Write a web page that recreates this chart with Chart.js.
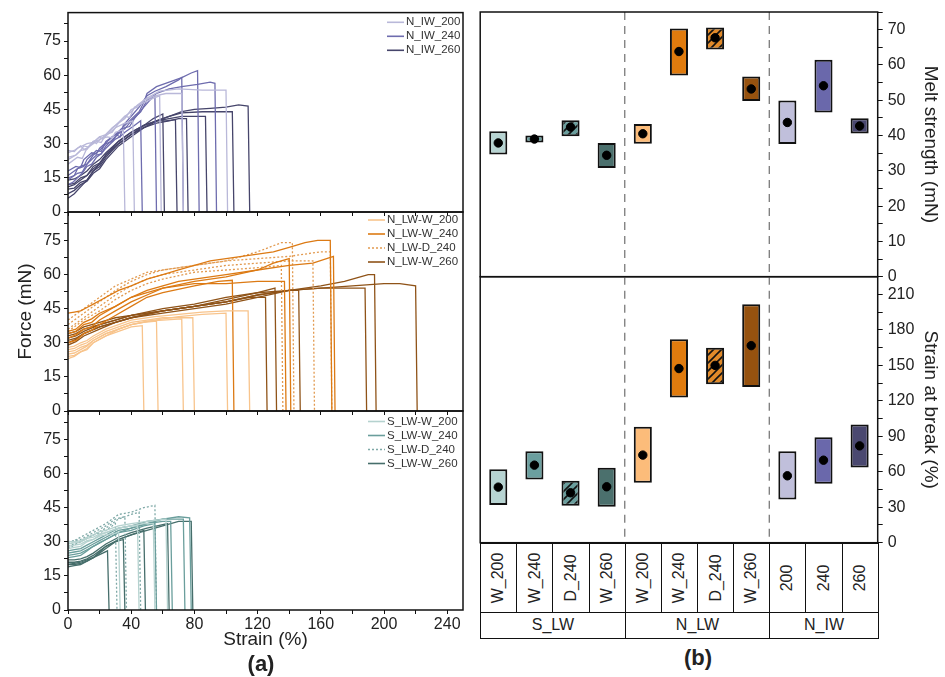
<!DOCTYPE html>
<html>
<head>
<meta charset="utf-8">
<script src="https://cdn.jsdelivr.net/npm/chart.js@4.4.1/dist/chart.umd.min.js"></script>
<style>
  body { margin: 0; width: 945px; height: 677px; position: relative; overflow: hidden; background: #fff;
         font-family: "Liberation Sans", Arial, sans-serif; color: #222; }
  canvas { position: absolute; }
  .cell { position: absolute; box-sizing: border-box; border: 1px solid #111; display: flex;
          align-items: center; justify-content: center; font-size: 16px; color: #222; background: #fff; }
  .rot { transform: rotate(-90deg); white-space: nowrap; }
  .panel { position: absolute; font-weight: bold; font-size: 22px; transform: translate(-50%, -50%); }
</style>
</head>
<body>
<canvas id="cTop" width="470" height="226" style="left:0;top:0"></canvas>
<canvas id="cMid" width="470" height="227" style="left:0;top:198px"></canvas>
<canvas id="cBot" width="470" height="280" style="left:0;top:397px"></canvas>
<canvas id="cRT" width="470" height="297" style="left:475px;top:-4px"></canvas>
<canvas id="cRB" width="470" height="299" style="left:475px;top:260px"></canvas>
<div id="table"></div>
<div class="panel" style="left:261px;top:664px">(a)</div>
<div class="panel" style="left:698px;top:658px">(b)</div>

<script>
// ===== Force-strain curves (strain %, force mN) =====
const nIw200 = [
  [[0,26],[4,27],[8,29],[10,27.5],[12,28],[16,31],[18,30],[20,32],[25,33],[28,32.5],[30,35],[35,36],[36,0]],
  [[0,24],[5,25],[8,27],[10,29],[13,28.5],[15,30],[20,33],[22,32],[25,34],[30,37],[36,39],[41,40],[42,0]],
  [[0,21],[6,24],[9,23.5],[12,28],[18,31],[21,30.5],[24,34],[30,38],[36,42],[39,41.5],[42,46],[48,48],[54,50],[58,51],[59,0]],
  [[0,23],[5,25],[8,27],[12,27.5],[16,31],[20,31.5],[24,34],[28,35],[32,39],[36,41],[40,45],[44,46],[48,49],[55,51],[62,52],[72,52],[73,0]],
  [[0,27],[4,26.5],[6,28],[12,30],[16,30.5],[20,33],[24,34],[28,37],[32,39],[36,42],[40,44],[44,47],[50,50],[58,53],[70,54],[85,53.5],[100,53.5],[101,0]]
];
const nIw240 = [
  [[0,18],[5,20],[8,19.5],[10,23],[15,26],[18,25.5],[20,28],[25,31],[30,34],[33,33],[35,38],[40,42],[45,46],[50,51],[55,53],[62,55],[70,58],[72,59],[73,0]],
  [[0,15],[4,16],[6,19],[10,20],[12,23],[18,27],[21,26.5],[24,31],[28,33],[30,34],[36,38],[42,42],[45,44],[48,48],[50,52],[56,55],[64,57],[72,59],[78,61],[82,62],[83,0]],
  [[0,16],[4,18],[8,20],[12,21],[16,25],[20,27],[24,30],[28,31],[32,35],[36,36.5],[40,40],[46,44],[50,49],[56,52],[64,54],[72,55],[82,56],[90,57],[93,56.5],[94,0]],
  [[0,12],[3,13],[6,15],[9,17],[12,20],[15,21],[18,24],[21,25.5],[24,28],[30,32],[33,33],[36,35],[42,38],[46,40],[47,0]],
  [[0,14],[6,17],[9,17.5],[12,21],[18,25],[21,25.5],[24,29],[30,33],[36,37],[39,37.5],[42,41],[48,46],[53,50],[55,51],[56,0]]
];
const nIw260 = [
  [[0,10],[4,10.5],[8,13],[12,14],[16,18],[20,20],[24,24],[32,30],[40,34],[48,37],[56,40],[64,42],[72,44],[80,45],[90,45.5],[100,46],[108,47],[114,46.5],[115,0]],
  [[0,8],[4,9.5],[8,12],[12,13.5],[16,17],[20,19],[24,23],[32,29],[40,33],[48,37],[56,40],[64,42],[72,43.5],[85,44],[95,44],[104,44],[105,0]],
  [[0,12],[4,12.5],[8,15],[12,16],[16,20],[20,21.5],[24,25],[32,31],[40,35],[48,38],[56,40],[64,41],[72,42],[80,42],[87,42],[88,0]],
  [[0,6],[4,8],[8,11],[12,14],[16,18],[20,21],[24,25],[32,30],[40,34],[48,37],[56,39],[64,40],[70,41],[75,41],[76,0]],
  [[0,14],[4,14.5],[8,16],[12,18],[16,21],[20,23],[24,26],[32,31],[40,35],[48,38],[56,40],[62,40],[68,40.5],[69,0]],
  [[0,11],[4,12],[8,14],[12,16],[16,19],[20,21],[24,25],[32,30],[40,34],[48,38],[54,41],[60,43],[61,0]]
];
const nLwW200 = [
  [[0,24],[4,24.5],[8,26],[12,27],[16,30],[24,33],[32,35],[40,37],[47,37.5],[48,0]],
  [[0,26],[4,26.5],[8,28],[12,29],[16,31],[24,34],[32,36],[40,38],[48,39],[56,39.5],[57,0]],
  [[0,25],[4,25.5],[8,27],[12,28.5],[16,31],[24,34],[32,36],[40,38],[50,39.5],[60,40],[72,40.5],[73,0]],
  [[0,27],[4,27.5],[8,29],[12,30],[16,32],[24,35],[32,37],[40,39],[50,40],[60,41],[70,41],[79,41],[80,0]],
  [[0,23],[4,24],[8,26],[12,27.5],[16,30],[24,33],[32,36],[40,38],[55,40],[70,41.5],[85,42.5],[100,43],[101,0]],
  [[0,28],[4,28.5],[8,30],[12,31],[16,33],[24,36],[32,38],[40,40],[55,41.5],[70,42.5],[85,43.5],[100,44],[114,44],[115,0]]
];
const nLwW240 = [
  [[0,43],[4,43.5],[8,44],[12,45.5],[16,47],[24,50],[32,53],[40,55],[50,58],[60,60],[70,62],[80,64],[90,66],[100,67],[110,68],[120,69],[130,70],[140,72],[150,74],[158,75],[166,75],[167,0]],
  [[0,34],[5,35],[10,38],[15,39],[20,42],[30,46],[40,50],[50,53],[60,55],[70,57],[80,58],[100,60],[120,62],[140,64],[155,65],[168,68],[169,0]],
  [[0,32],[5,33.5],[10,36],[15,37],[20,40],[30,44],[40,48],[50,51],[60,54],[80,57],[100,59],[120,62],[130,65],[140,67],[141,0]],
  [[0,30],[5,31],[10,34],[15,35.5],[20,38],[30,42],[40,46],[50,50],[60,52],[80,55],[95,57],[104,57.5],[105,0]],
  [[0,35],[5,36],[10,39],[15,40.5],[20,43],[30,46],[40,50],[50,52],[60,54],[80,56],[100,56],[120,57],[137,57],[138,0]]
];
const nLwD240 = [
  [[0,38],[10,43],[20,48],[30,53],[40,57],[50,60],[60,62],[80,64],[100,66],[120,70],[135,74],[142,74],[143,0]],
  [[0,36],[10,41],[20,46],[30,51],[40,55],[50,58],[60,60],[80,62],[100,64],[120,65],[140,66],[155,66],[156,0]],
  [[0,40],[10,45],[20,50],[30,55],[40,58],[50,61],[60,62],[80,64],[100,66],[120,67],[140,68],[160,70],[166,70],[167,0]],
  [[0,35],[10,40],[20,44],[30,49],[40,53],[50,56],[60,58],[80,61],[100,62],[120,63],[135,64],[136,0]]
];
const nLwW260 = [
  [[0,33],[5,34],[10,36],[20,38],[30,40],[40,42],[60,44],[80,46],[100,48],[115,50],[125,50],[126,0]],
  [[0,30],[5,31.5],[10,34],[20,37],[30,39],[40,41],[60,44],[80,46],[100,49],[120,52],[131,54],[132,0]],
  [[0,34],[5,35],[10,37],[20,39],[30,41],[40,42],[60,45],[80,47],[100,50],[120,52],[140,53],[146,53],[147,0]],
  [[0,31],[5,32],[10,34],[20,37],[30,39],[40,41],[60,44],[80,46],[100,48],[120,51],[140,53],[160,54],[180,54],[188,54],[189,0]],
  [[0,29],[5,30.5],[10,33],[20,36],[30,39],[40,41],[60,43],[80,45],[100,47],[120,50],[140,53],[160,55],[175,57],[185,59],[190,60],[194,60],[195,0]],
  [[0,32],[5,33],[10,35],[20,38],[30,40],[40,42],[60,44],[80,46],[100,48],[120,51],[140,53],[160,54],[180,55],[200,56],[210,56],[220,55],[221,0]]
];
const sLwW200 = [
  [[0,28],[4,28.5],[8,29],[12,30.5],[16,31],[20,32.5],[24,33],[32,34],[33,0]],
  [[0,29],[4,29.5],[8,30],[12,31.5],[16,32],[20,33.5],[24,34],[32,36],[40,37],[44,37],[45,0]],
  [[0,27],[4,27.5],[8,28],[12,30],[16,31],[20,33],[24,34],[32,36],[40,37],[48,38],[54,38],[55,0]],
  [[0,30],[4,30],[8,30.5],[12,32],[16,33],[20,34.5],[24,35],[32,37],[40,38],[50,39],[62,40],[63,0]]
];
const sLwW240 = [
  [[0,24],[4,24.5],[8,25],[12,26.5],[16,28],[20,29.5],[24,31],[32,34],[40,35],[48,37],[55,38],[56,0]],
  [[0,25],[4,25.5],[8,26],[12,27.5],[16,29],[20,30.5],[24,32],[32,35],[40,36],[50,38],[60,39],[65,39],[66,0]],
  [[0,23],[4,23.5],[8,24],[12,26],[16,28],[20,29.5],[24,31],[32,34],[40,36],[50,38],[60,40],[73,40],[74,0]],
  [[0,26],[4,26.5],[8,27],[12,28.5],[16,30],[20,31.5],[24,33],[32,36],[40,37],[50,39],[60,40],[70,41],[77,40.5],[78,0]]
];
const sLwD240 = [
  [[0,28],[4,29],[8,30],[12,31.5],[16,33],[20,34],[24,35],[30,38],[31,0]],
  [[0,30],[4,30.5],[8,31],[12,32.5],[16,34],[20,35.5],[24,37],[30,40],[36,41],[37,0]],
  [[0,27],[4,28.5],[8,30],[12,31.5],[16,33],[20,34.5],[24,36],[32,40],[40,42],[45,43],[46,0]],
  [[0,29],[4,30.5],[8,32],[12,33.5],[16,35],[20,36.5],[24,38],[32,42],[40,43],[48,45],[55,46],[56,0]]
];
const sLwW260 = [
  [[0,20],[4,20.5],[8,21],[12,22],[16,23],[22,25],[25,26],[26,0]],
  [[0,21],[4,21],[8,21.5],[12,22.5],[16,24],[20,26],[24,28],[30,30],[35,31],[36,0]],
  [[0,19],[4,19.5],[8,20],[12,21.5],[16,23],[20,25],[24,27],[32,31],[40,33],[48,35],[49,0]],
  [[0,22],[4,22],[8,22.5],[12,23.5],[16,25],[20,27],[24,29],[32,32],[40,34],[50,36],[63,38],[64,0]],
  [[0,20],[4,20],[8,20.5],[12,21.5],[16,23],[20,25.5],[24,28],[32,31],[40,33],[50,35],[60,37],[70,39],[78,39],[79,0]]
];

// ===== Box data for panel (b) =====
const categories = ["W_200", "W_240", "D_240", "W_260", "W_200", "W_240", "D_240", "W_260", "200", "240", "260"];
const groupNames = ["S_LW", "N_LW", "N_IW"];
const groupSizes = [4, 4, 3];
const meltLow  = [34.6, 38.0, 39.8, 30.8, 37.7, 57.0, 64.4, 49.8, 37.6, 46.5, 40.6];
const meltHigh = [41.2, 40.0, 44.3, 37.9, 43.3, 70.3, 70.6, 56.7, 49.9, 61.5, 44.9];
const meltMean = [37.9, 39.0, 42.4, 34.4, 40.5, 63.8, 67.7, 53.2, 43.7, 54.1, 42.7];
const strainLow  = [31.8, 53.5, 31.3, 30.4, 50.7, 122.8, 134.0, 131.8, 36.6, 49.8, 63.7];
const strainHigh = [62.2, 77.4, 52.4, 63.4, 98.0, 172.0, 165.0, 201.6, 77.4, 89.3, 100.0];
const strainMean = [47.0, 65.6, 42.2, 47.3, 74.1, 147.3, 150.0, 166.7, 56.6, 69.8, 81.9];

// ===== Styles =====
const FONT = "'Liberation Sans', Arial, sans-serif";
const TXT = "#222";
const boxColors = ["#b7d4d2", "#6b9f9f", "#6a9e9d", "#4b706d", "#fcbc7a", "#e07b0e", "#e08a2a", "#96520f", "#c0bfdb", "#6a68ab", "#4a4870"];
const hatched = [false, false, true, false, false, false, true, false, false, false, false];

const topSeries = [
  { name: "N_IW_200", curves: nIw200, color: "#b9b8d9" },
  { name: "N_IW_240", curves: nIw240, color: "#6e6cae" },
  { name: "N_IW_260", curves: nIw260, color: "#46456b" }
];
const midSeries = [
  { name: "N_LW-W_200", curves: nLwW200, color: "#f8c48c" },
  { name: "N_LW-W_240", curves: nLwW240, color: "#dc7a14" },
  { name: "N_LW-D_240", curves: nLwD240, color: "#e29a50", dash: [2, 2] },
  { name: "N_LW-W_260", curves: nLwW260, color: "#8f5318" }
];
const botSeries = [
  { name: "S_LW-W_200", curves: sLwW200, color: "#b5d2cf" },
  { name: "S_LW-W_240", curves: sLwW240, color: "#6a9e9c" },
  { name: "S_LW-D_240", curves: sLwD240, color: "#7fa9a7", dash: [2, 2] },
  { name: "S_LW-W_260", curves: sLwW260, color: "#466e6b" }
];

// ===== Plugins =====
const framePlugin = {
  id: "frame",
  afterDraw(chart) {
    const { ctx, chartArea: a } = chart;
    ctx.save();
    ctx.strokeStyle = "#111";
    ctx.lineWidth = 1.5;
    ctx.strokeRect(a.left, a.top, a.width, a.height);
    ctx.restore();
  }
};

const legendPlugin = {
  id: "seriesLegend",
  afterDraw(chart, args, opts) {
    if (!opts.items) return;
    const { ctx, chartArea: a } = chart;
    ctx.save();
    ctx.font = "11.5px " + FONT;
    ctx.textBaseline = "middle";
    ctx.fillStyle = "#333";
    opts.items.forEach((s, i) => {
      const y = a.top + opts.top + i * 14;
      const x0 = a.right - opts.fromRight;
      ctx.strokeStyle = s.color;
      ctx.lineWidth = 1.6;
      ctx.setLineDash(s.dash || []);
      ctx.beginPath();
      ctx.moveTo(x0, y);
      ctx.lineTo(x0 + 17, y);
      ctx.stroke();
      ctx.fillText(s.name, x0 + 19, y);
    });
    ctx.restore();
  }
};

const dividerPlugin = {
  id: "dividers",
  beforeDatasetsDraw(chart) {
    const { ctx, chartArea: a } = chart;
    const xs = chart.scales.x;
    ctx.save();
    ctx.strokeStyle = "#7a7a7a";
    ctx.lineWidth = 1.3;
    ctx.setLineDash([8, 6]);
    let idx = 0;
    groupSizes.slice(0, -1).forEach(n => {
      idx += n;
      const px = (xs.getPixelForValue(idx - 1) + xs.getPixelForValue(idx)) / 2;
      ctx.beginPath();
      ctx.moveTo(px, a.top);
      ctx.lineTo(px, a.bottom);
      ctx.stroke();
    });
    ctx.restore();
  }
};

// ===== Helpers =====
function isMult(v, m) {
  return Math.abs(v / m - Math.round(v / m)) < 1e-6;
}

function hatch(color) {
  const c = document.createElement("canvas");
  c.width = c.height = 8;
  const g = c.getContext("2d");
  g.fillStyle = color;
  g.fillRect(0, 0, 8, 8);
  g.strokeStyle = "#111";
  g.lineWidth = 1.6;
  g.beginPath();
  g.moveTo(0, 8); g.lineTo(8, 0);
  g.moveTo(-2, 2); g.lineTo(2, -2);
  g.moveTo(6, 10); g.lineTo(10, 6);
  g.stroke();
  return g.createPattern(c, "repeat");
}

// ===== Panel (a): three stacked force-strain plots =====
function curveChart(id, series, cfg) {
  const datasets = [];
  series.forEach(s => {
    s.curves.forEach(c => datasets.push({
      data: c.map(p => ({ x: p[0], y: p[1] })),
      borderColor: s.color,
      borderWidth: 1.3,
      borderDash: s.dash || [],
      pointRadius: 0,
      tension: 0,
      fill: false
    }));
  });

  return new Chart(document.getElementById(id), {
    type: "line",
    data: { datasets },
    options: {
      responsive: false,
      animation: false,
      layout: { padding: { top: cfg.padTop, right: 7, left: 0, bottom: cfg.padBottom } },
      plugins: {
        legend: { display: false },
        tooltip: { enabled: false },
        seriesLegend: { items: series, top: cfg.legendTop, fromRight: cfg.legendFromRight }
      },
      scales: {
        x: {
          type: "linear", min: 0, max: 250,
          ticks: {
            stepSize: 20, includeBounds: false, autoSkip: false, maxRotation: 0, padding: 1,
            color: TXT, font: { family: FONT, size: 16 },
            callback: v => (cfg.showX && isMult(v, 40)) ? v : ""
          },
          grid: { drawOnChartArea: false, color: "#111", tickLength: 4 },
          border: { display: false },
          title: { display: cfg.showX, text: "Strain (%)", color: TXT, font: { family: FONT, size: 19 }, padding: { top: 0, bottom: 1 } },
          afterFit: s => { s.height = cfg.xHeight; }
        },
        y: {
          min: 0, max: 87.5,
          ticks: {
            stepSize: 7.5, includeBounds: false, autoSkip: false, padding: 3,
            color: TXT, font: { family: FONT, size: 16 },
            callback: v => isMult(v, 15) ? v : ""
          },
          grid: { drawOnChartArea: false, color: "#111", tickLength: 4 },
          border: { display: false },
          title: { display: !!cfg.yTitle, text: cfg.yTitle || "", color: TXT, font: { family: FONT, size: 19 }, padding: { top: 14 } },
          afterFit: s => { s.width = 68; }
        }
      }
    },
    plugins: [framePlugin, legendPlugin]
  });
}

curveChart("cTop", topSeries, { padTop: 12, padBottom: 10, xHeight: 4, showX: false, legendTop: 9.7, legendFromRight: 76 });
curveChart("cMid", midSeries, { padTop: 14, padBottom: 10, xHeight: 4, showX: false, legendTop: 8, legendFromRight: 95, yTitle: "Force (mN)" });
curveChart("cBot", botSeries, { padTop: 14, padBottom: 25, xHeight: 42, showX: true, legendTop: 10.5, legendFromRight: 95 });

// ===== Panel (b): range boxes with mean dots =====
function boxChart(id, low, high, mean, cfg) {
  const fills = boxColors.map((c, i) => hatched[i] ? hatch(c) : c);
  return new Chart(document.getElementById(id), {
    type: "bar",
    data: {
      labels: categories,
      datasets: [
        {
          type: "line",
          data: mean,
          showLine: false,
          pointRadius: 4.2,
          pointBackgroundColor: "#000",
          pointBorderColor: "#000",
          order: 0
        },
        {
          data: low.map((l, i) => [l, high[i]]),
          backgroundColor: fills,
          borderColor: "#111",
          borderWidth: 2,
          borderSkipped: false,
          barPercentage: 0.5,
          categoryPercentage: 1,
          order: 1
        }
      ]
    },
    options: {
      responsive: false,
      animation: false,
      layout: { padding: { top: cfg.padTop, bottom: cfg.padBottom, left: 4.5, right: 0 } },
      plugins: { legend: { display: false }, tooltip: { enabled: false } },
      scales: {
        x: { display: false, offset: true },
        y: {
          position: "right", min: 0, max: cfg.max,
          ticks: {
            stepSize: cfg.step / 2, includeBounds: false, autoSkip: false, padding: 5,
            color: TXT, font: { family: FONT, size: 16 },
            callback: v => isMult(v, cfg.step) ? v : ""
          },
          grid: { drawOnChartArea: false, color: "#111", tickLength: 5 },
          border: { display: false },
          title: { display: true, text: cfg.title, color: TXT, font: { family: FONT, size: 19 }, padding: { top: 3.6 } },
          afterFit: s => { s.width = 67.3; }
        }
      }
    },
    plugins: [dividerPlugin, framePlugin]
  });
}

const rt = boxChart("cRT", meltLow, meltHigh, meltMean, { max: 75, step: 10, padTop: 16, padBottom: 16.3, title: "Melt strength (mN)" });
const rb = boxChart("cRB", strainLow, strainHigh, strainMean, { max: 225, step: 30, padTop: 16.7, padBottom: 16.3, title: "Strain at break (%)" });

// ===== Category table under panel (b) =====
function buildTable(chart, canvasLeft, canvasTop) {
  const table = document.getElementById("table");
  const xs = chart.scales.x;
  const step = xs.width / categories.length;
  const top = canvasTop + chart.chartArea.bottom;
  const row1 = 69, row2 = 27.6;
  categories.forEach((c, i) => {
    const d = document.createElement("div");
    d.className = "cell";
    d.style.left = (canvasLeft + xs.getPixelForValue(i) - step / 2) + "px";
    d.style.top = top + "px";
    d.style.width = (step + 1) + "px";
    d.style.height = (row1 + 1) + "px";
    d.innerHTML = '<span class="rot">' + c + "</span>";
    table.appendChild(d);
  });
  let start = 0;
  groupNames.forEach((g, k) => {
    const d = document.createElement("div");
    d.className = "cell";
    d.style.left = (canvasLeft + xs.getPixelForValue(start) - step / 2) + "px";
    d.style.top = (top + row1) + "px";
    d.style.width = (step * groupSizes[k] + 1) + "px";
    d.style.height = row2 + "px";
    d.textContent = g;
    table.appendChild(d);
    start += groupSizes[k];
  });
}
buildTable(rb, 475, 260);
</script>
</body>
</html>
